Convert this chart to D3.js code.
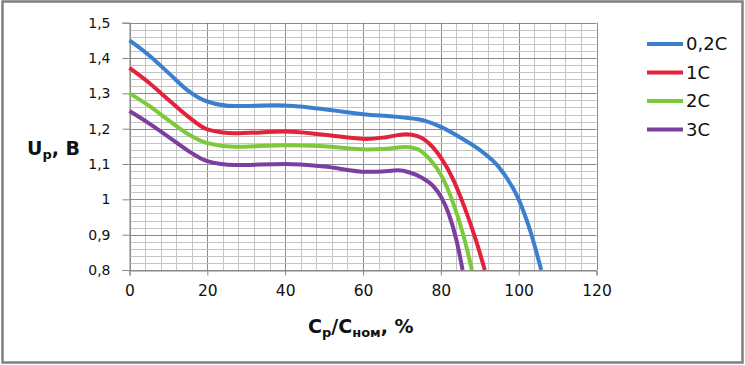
<!DOCTYPE html>
<html>
<head>
<meta charset="utf-8">
<title>U(C)</title>
<script src="https://cdn.jsdelivr.net/npm/d3@7"></script>
<style>
body { margin: 0; background: #fff; }
text { font-family: "DejaVu Sans", sans-serif; fill: #111; }
.tick text { font-size: 14px; }
.ttl { font-weight: bold; font-size: 19px; }
.leg { font-size: 18px; }
</style>
</head>
<body>
<svg id="chart" width="745" height="365"></svg>
<script>
// series : x = Cp/Cnom (%), y = Up (B)
var names = ["0,2C", "1C", "2C", "3C"];
var colors = ["#3b80cf", "#e2233b", "#7cc93a", "#7b3f9e"];

var x02 = [0, 5, 10, 15, 20, 27, 38, 50, 60, 70, 76, 80, 85, 90, 95, 100, 103, 105.8];
var y02 = [1.45, 1.408, 1.358, 1.308, 1.277, 1.264, 1.266, 1.255, 1.241, 1.232, 1.222, 1.205, 1.175, 1.14, 1.09, 1.0, 0.91, 0.8];

var x1 = [0, 5, 10, 15, 20, 27, 40, 50, 61, 66, 71, 74, 77, 80, 83, 86, 89, 91.3];
var y1 = [1.372, 1.33, 1.282, 1.235, 1.198, 1.187, 1.192, 1.183, 1.171, 1.176, 1.184, 1.179, 1.158, 1.118, 1.06, 0.98, 0.885, 0.8];

var x2 = [0, 5, 10, 15, 20, 27, 40, 50, 61, 66, 71, 74, 77, 80, 83, 86, 88];
var y2 = [1.30, 1.265, 1.224, 1.185, 1.159, 1.149, 1.153, 1.15, 1.141, 1.143, 1.148, 1.142, 1.115, 1.07, 0.995, 0.89, 0.8];

var x3 = [0, 5, 10, 15, 20, 27, 40, 50, 61, 65, 69, 72, 75, 78, 80, 82, 84, 85.6];
var y3 = [1.25, 1.215, 1.177, 1.138, 1.108, 1.097, 1.10, 1.093, 1.078, 1.079, 1.082, 1.076, 1.062, 1.038, 1.008, 0.96, 0.885, 0.8];

var xTicks = [0, 20, 40, 60, 80, 100, 120];
var yTicks = [0.8, 0.9, 1.0, 1.1, 1.2, 1.3, 1.4, 1.5];

var svg = d3.select("#chart");

// outer frame
svg.append("rect")
  .attr("x", 2.5).attr("y", 1.5).attr("width", 740).attr("height", 361)
  .attr("fill", "none").attr("stroke", "#7f7f7f").attr("stroke-width", 2.5);

var x = d3.scaleLinear().domain([0, 120]).range([129.5, 596.5]);
var y = d3.scaleLinear().domain([0.8, 1.5]).range([270, 22.7]);

// grid
var g = svg.append("g");
g.selectAll(".vmin").data(d3.range(0, 121, 4)).enter().append("line")
  .attr("x1", d => Math.round(x(d)) + 0.5).attr("x2", d => Math.round(x(d)) + 0.5)
  .attr("y1", y(1.5)).attr("y2", y(0.8))
  .attr("stroke", d => d % 20 === 0 ? "#8a8a8a" : "#c4c4c4");
g.selectAll(".hmin").data(d3.range(0, 36)).enter().append("line")
  .attr("x1", x(0)).attr("x2", x(120))
  .attr("y1", d => Math.round(y(0.8 + d * 0.02)) + 0.5).attr("y2", d => Math.round(y(0.8 + d * 0.02)) + 0.5)
  .attr("stroke", d => d % 5 === 0 ? "#8a8a8a" : "#c4c4c4");

// axes
var fmt = d => d3.format("~g")(+d.toFixed(1)).replace(".", ",");
var ax = svg.append("g").attr("transform", "translate(0,270.5)")
  .call(d3.axisBottom(x).tickValues(xTicks).tickSize(5).tickPadding(9).tickFormat(d3.format("d")));
ax.selectAll("text").style("font-size", "15.5px");
var ay = svg.append("g").attr("transform", "translate(129.5,0)")
  .call(d3.axisLeft(y).tickValues(yTicks).tickSize(7).tickPadding(12).tickFormat(fmt));
svg.selectAll(".domain, .tick line").attr("stroke", "#868686");

// curves
var line = d3.line().curve(d3.curveMonotoneX)
  .x(d => x(d[0])).y(d => y(d[1]));
var series = [[x02, y02], [x1, y1], [x2, y2], [x3, y3]];
series.forEach(function(s, i) {
  var pts = s[0].map((v, k) => [v, s[1][k]]);
  svg.append("path").datum(pts)
    .attr("d", line).attr("fill", "none")
    .attr("stroke", colors[i]).attr("stroke-width", 4)
    .attr("stroke-linejoin", "round");
});

// legend
var leg = svg.append("g");
names.forEach(function(n, i) {
  var ly = 44 + i * 28.5;
  leg.append("line").attr("x1", 647).attr("x2", 683).attr("y1", ly).attr("y2", ly)
    .attr("stroke", colors[i]).attr("stroke-width", 4);
  leg.append("text").attr("class", "leg").attr("x", 686).attr("y", ly).attr("dy", "0.36em").text(n);
});

// titles
var ty = svg.append("text").attr("class", "ttl").attr("x", 27).attr("y", 155);
ty.append("tspan").text("U");
ty.append("tspan").attr("dy", 4).style("font-size", "13px").text("p");
ty.append("tspan").attr("dy", -4).text(", B");

var tx = svg.append("text").attr("class", "ttl").attr("x", 308).attr("y", 333);
tx.append("tspan").text("C");
tx.append("tspan").attr("dy", 4).style("font-size", "13px").text("p");
tx.append("tspan").attr("dy", -4).text("/C");
tx.append("tspan").attr("dy", 4).style("font-size", "13px").text("ном");
tx.append("tspan").attr("dy", -4).text(", %");
</script>
</body>
</html>
